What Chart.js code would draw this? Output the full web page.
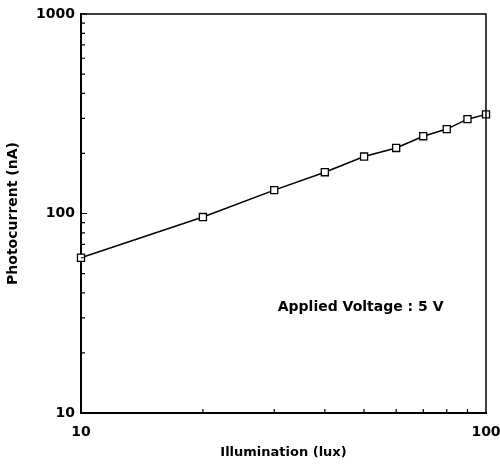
<!DOCTYPE html>
<html>
<head>
<meta charset="utf-8">
<script src="https://cdn.jsdelivr.net/npm/chart.js@4.4.0/dist/chart.umd.min.js"></script>
<style>
  html, body { margin: 0; padding: 0; background: #fff; }
  canvas { display: block; }
</style>
</head>
<body>
<canvas id="photo_chart" width="500" height="470"></canvas>
<script>
// illumination (lux) vs photocurrent (nA)
const illumination = [10, 20, 30, 40, 50, 60, 70, 80, 90, 100];
const photocurrent = [60, 96, 131, 161, 193, 213, 244, 265, 297, 314];

const xMajorTicks = [10, 100];
const yMajorTicks = [10, 100, 1000];
const xMinorTicks = [20, 30, 40, 50, 60, 70, 80, 90];
const yMinorTicks = [20, 30, 40, 50, 60, 70, 80, 90, 200, 300, 400, 500, 600, 700, 800, 900];

const noteText = "Applied Voltage : 5 V";
const noteX = 30.6;
const noteY = 34;

const FONT = "'DejaVu Sans', sans-serif";

// inward tick marks, top/right frame and the voltage note
const framePlugin = {
    id: 'frame',
    afterDraw(chart){
        const ctx = chart.ctx;
        const area = chart.chartArea;
        const xs = chart.scales.x;
        const ys = chart.scales.y;

        ctx.save();
        ctx.strokeStyle = '#000';
        ctx.lineWidth = 1.5;
        ctx.beginPath();
        ctx.moveTo(area.left, area.top);
        ctx.lineTo(area.right, area.top);
        ctx.lineTo(area.right, area.bottom);
        ctx.stroke();

        ctx.lineWidth = 1.2;
        ctx.beginPath();
        xMinorTicks.forEach(function(v){
            const px = xs.getPixelForValue(v);
            ctx.moveTo(px, area.bottom);
            ctx.lineTo(px, area.bottom - 4);
        });
        yMinorTicks.forEach(function(v){
            const py = ys.getPixelForValue(v);
            ctx.moveTo(area.left, py);
            ctx.lineTo(area.left + 4, py);
        });
        yMajorTicks.forEach(function(v){
            const py = ys.getPixelForValue(v);
            ctx.moveTo(area.left, py);
            ctx.lineTo(area.left + 6, py);
        });
        ctx.stroke();

        ctx.fillStyle = '#000';
        ctx.font = "bold 14px " + FONT;
        ctx.textAlign = 'left';
        ctx.textBaseline = 'middle';
        ctx.fillText(noteText, xs.getPixelForValue(noteX), ys.getPixelForValue(noteY));
        ctx.restore();
    }
};

const ctx = document.getElementById('photo_chart').getContext('2d');
const chart = new Chart(ctx, {
    type: 'line',
    data: {
        labels: illumination,
        datasets: [{
            data: illumination.map(function(x, i){ return {x: x, y: photocurrent[i]}; }),
            borderColor: '#000',
            borderWidth: 1.5,
            tension: 0,
            fill: false,
            pointStyle: 'rect',
            pointRadius: 5,
            pointBorderWidth: 1.3,
            pointBorderColor: '#000',
            pointBackgroundColor: '#fff',
            clip: false
        }]
    },
    options: {
        responsive: false,
        animation: false,
        layout: { padding: { top: 14, right: 14, left: 0, bottom: 0 } },
        plugins: {
            legend: { display: false },
            tooltip: { enabled: false }
        },
        scales: {
            x: {
                type: 'logarithmic',
                min: 10,
                max: 100,
                afterBuildTicks: function(scale){
                    scale.ticks = xMajorTicks.map(function(v){ return {value: v}; });
                },
                afterFit: function(scale){
                    scale.height = 57;
                    scale.paddingLeft = 0;
                    scale.paddingRight = 0;
                },
                grid: { display: false, drawTicks: false },
                border: { display: true, color: '#000', width: 2 },
                ticks: {
                    color: '#000',
                    padding: 11,
                    maxRotation: 0,
                    autoSkip: false,
                    font: { family: FONT, size: 14, weight: 'bold' },
                    callback: function(v){ return String(v); }
                },
                title: {
                    display: true,
                    text: 'Illumination (lux)',
                    color: '#000',
                    padding: { top: 0, bottom: 10 },
                    font: { family: FONT, size: 13, weight: 'bold' }
                }
            },
            y: {
                type: 'logarithmic',
                min: 10,
                max: 1000,
                afterBuildTicks: function(scale){
                    scale.ticks = yMajorTicks.map(function(v){ return {value: v}; });
                },
                afterFit: function(scale){
                    scale.width = 81;
                    scale.paddingTop = 0;
                    scale.paddingBottom = 0;
                },
                grid: { display: false, drawTicks: false },
                border: { display: true, color: '#000', width: 2 },
                ticks: {
                    color: '#000',
                    padding: 6,
                    autoSkip: false,
                    font: { family: FONT, size: 14, weight: 'bold' },
                    callback: function(v){ return String(v); }
                },
                title: {
                    display: true,
                    text: 'Photocurrent (nA)',
                    color: '#000',
                    padding: { top: 4.6, bottom: 0 },
                    font: { family: FONT, size: 14, weight: 'bold' }
                }
            }
        }
    },
    plugins: [framePlugin]
});
</script>
</body>
</html>
